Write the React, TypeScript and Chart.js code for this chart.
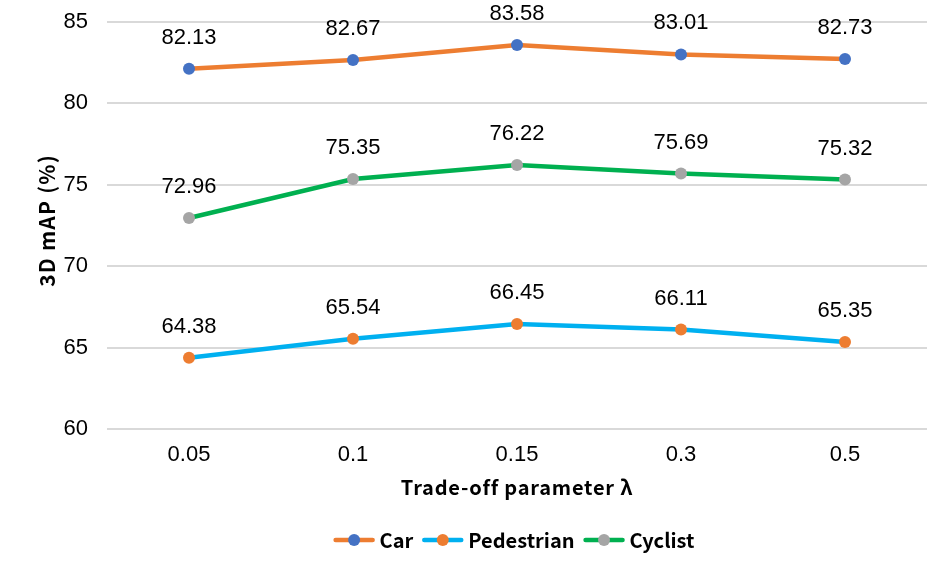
import React, { useEffect, useRef } from "react";
import { Chart, registerables } from "chart.js";

Chart.register(...registerables);

const categories = ["0.05", "0.1", "0.15", "0.3", "0.5"];
const carValues = [82.13, 82.67, 83.58, 83.01, 82.73];
const pedestrianValues = [64.38, 65.54, 66.45, 66.11, 65.35];
const cyclistValues = [72.96, 75.35, 76.22, 75.69, 75.32];
const seriesNames = ["Car", "Pedestrian", "Cyclist"];
const lineColors = ["#ED7D31", "#00B0F0", "#00B050"];
const pointColors = ["#4472C4", "#ED7D31", "#A5A5A5"];
const yTitle = "3D mAP (%)";
const xTitle = "Trade-off parameter λ";

const TITLE_FAMILY = "'Noto Sans CJK SC', 'Noto Sans', sans-serif";
const NUM_FONT = "22px 'Liberation Sans', Arial, sans-serif";

const extrasPlugin = {
  id: "extras",
  afterDatasetsDraw(chart: any) {
    const ctx = chart.ctx;
    ctx.save();
    // data labels
    ctx.font = NUM_FONT;
    ctx.fillStyle = "#000";
    ctx.textAlign = "center";
    ctx.textBaseline = "middle";
    chart.data.datasets.forEach((ds: any, i: number) => {
      const meta = chart.getDatasetMeta(i);
      meta.data.forEach((pt: any, j: number) => {
        ctx.fillText(ds.data[j].toFixed(2), pt.x, pt.y - 31);
      });
    });
    const area = chart.chartArea;
    // x title
    ctx.font = "bold 20px " + TITLE_FAMILY;
    (ctx as any).letterSpacing = "0.8px";
    ctx.fillText(xTitle, (area.left + area.right) / 2, 487);
    // y title
    ctx.save();
    ctx.font = "bold 21px " + TITLE_FAMILY;
    (ctx as any).letterSpacing = "1.2px";
    ctx.translate(47, (area.top + area.bottom) / 2 - 5);
    ctx.rotate(-Math.PI / 2);
    ctx.fillText(yTitle, 0, 0);
    ctx.restore();
    // legend
    ctx.font = "bold 20px " + TITLE_FAMILY;
    (ctx as any).letterSpacing = "0px";
    const lineLen = 41;
    const gapAfterLine = 5;
    const gapAfterText = 9;
    const widths = seriesNames.map((n) => ctx.measureText(n).width);
    const total =
      widths.reduce((a, b) => a + b, 0) +
      seriesNames.length * (lineLen + gapAfterLine) +
      (seriesNames.length - 1) * gapAfterText;
    let x = 514 - total / 2;
    const ly = 540;
    ctx.textAlign = "left";
    seriesNames.forEach((n, i) => {
      ctx.strokeStyle = lineColors[i];
      ctx.lineWidth = 4.5;
      ctx.lineCap = "round";
      ctx.beginPath();
      ctx.moveTo(x + 2, ly);
      ctx.lineTo(x + lineLen - 2, ly);
      ctx.stroke();
      ctx.fillStyle = pointColors[i];
      ctx.beginPath();
      ctx.arc(x + lineLen / 2, ly, 6, 0, Math.PI * 2);
      ctx.fill();
      ctx.fillStyle = "#000";
      ctx.fillText(n, x + lineLen + gapAfterLine, ly);
      x += lineLen + gapAfterLine + widths[i] + gapAfterText;
    });
    ctx.restore();
  },
};

export default function App() {
  const ref = useRef<HTMLCanvasElement>(null);
  useEffect(() => {
    if (!ref.current) return;
    const values = [carValues, pedestrianValues, cyclistValues];
    const chart = new Chart(ref.current, {
      type: "line",
      data: {
        labels: categories,
        datasets: seriesNames.map((name, i) => ({
          label: name,
          data: values[i],
          borderColor: lineColors[i],
          backgroundColor: pointColors[i],
          pointBackgroundColor: pointColors[i],
          pointBorderColor: pointColors[i],
          pointRadius: 6,
          pointBorderWidth: 0,
          borderWidth: 4.5,
          tension: 0,
          fill: false,
        })),
      },
      options: {
        animation: false,
        responsive: true,
        maintainAspectRatio: false,
        layout: { padding: { top: 22, right: 23, left: 0, bottom: 0 } },
        plugins: {
          legend: { display: false },
          tooltip: { enabled: false },
        },
        scales: {
          x: {
            offset: true,
            grid: { display: false, drawTicks: false },
            border: { display: false },
            ticks: {
              padding: 13,
              color: "#000",
              font: { family: "'Liberation Sans', Arial, sans-serif", size: 22 },
            },
            afterFit: (s: any) => {
              s.height = 148;
              s.paddingLeft = 0;
              s.paddingRight = 0;
            },
          },
          y: {
            min: 60,
            max: 85,
            grid: { color: "#D9D9D9", lineWidth: 2, drawTicks: false },
            border: { display: false },
            ticks: {
              stepSize: 5,
              padding: 19,
              color: "#000",
              font: { family: "'Liberation Sans', Arial, sans-serif", size: 22 },
            },
            afterFit: (s: any) => {
              s.width = 107;
              s.paddingTop = 0;
              s.paddingBottom = 0;
            },
          },
        },
      },
      plugins: [extrasPlugin],
    });
    return () => chart.destroy();
  }, []);
  return (
    <div style={{ position: "fixed", left: 0, top: 0, width: 950, height: 577, background: "#fff" }}>
      <canvas ref={ref} />
    </div>
  );
}
